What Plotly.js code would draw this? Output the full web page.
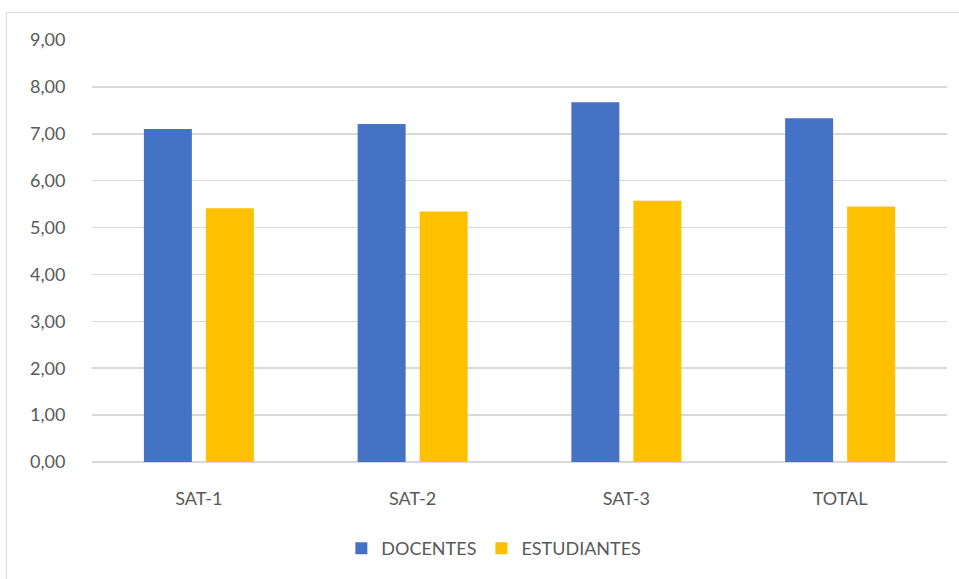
<!DOCTYPE html>
<html>
<head>
<meta charset="utf-8">
<script src="https://cdn.plot.ly/plotly-3.0.1.min.js"></script>
<style>
html,body{margin:0;padding:0;background:#fff;}
#frame{position:absolute;left:6px;top:12px;width:960px;height:580px;border:1px solid #d9d9d9;box-sizing:border-box;}
#chart{position:absolute;left:0;top:0;width:959px;height:579px;}
</style>
</head>
<body>
<div id="frame"></div>
<div id="chart"></div>
<script>
const categories = ["SAT-1", "SAT-2", "SAT-3", "TOTAL"];
const docentes = [7.10, 7.21, 7.67, 7.33];
const estudiantes = [5.41, 5.34, 5.57, 5.45];
const yTicks = [0,1,2,3,4,5,6,7,8,9];

const font = {family: "Lato, 'Open Sans', sans-serif", size: 18, color: "#595959"};

const traces = [
  {type: "bar", name: "DOCENTES", x: categories, y: docentes, marker: {color: "#4472c4"}},
  {type: "bar", name: "ESTUDIANTES", x: categories, y: estudiantes, marker: {color: "#ffc000"}}
];

const layout = {
  width: 959, height: 579,
  margin: {l: 92, r: 12, t: 40, b: 114},
  paper_bgcolor: "rgba(0,0,0,0)",
  plot_bgcolor: "rgba(0,0,0,0)",
  font: font,
  barmode: "group",
  bargap: 0.42,
  bargroupgap: 0.226,
  separators: ",.",
  xaxis: {
    showgrid: false, showline: false, zeroline: false,
    ticks: "outside", ticklen: 20, tickcolor: "rgba(0,0,0,0)",
    tickfont: font
  },
  yaxis: {
    range: [0, 9], tickvals: yTicks, tickformat: ".2f",
    showgrid: true, gridcolor: "#d9d9d9", gridwidth: 1.5,
    zeroline: true, zerolinecolor: "#d9d9d9", zerolinewidth: 1.5,
    showline: false,
    ticks: "outside", ticklen: 22, tickcolor: "rgba(0,0,0,0)",
    tickfont: font
  },
  showlegend: true,
  legend: {
    orientation: "h", x: 0.47, xanchor: "center", y: -0.205, yanchor: "middle",
    font: font, itemwidth: 30, traceorder: "normal"
  }
};

Plotly.newPlot("chart", traces, layout, {displayModeBar: false, staticPlot: true});
</script>
</body>
</html>
